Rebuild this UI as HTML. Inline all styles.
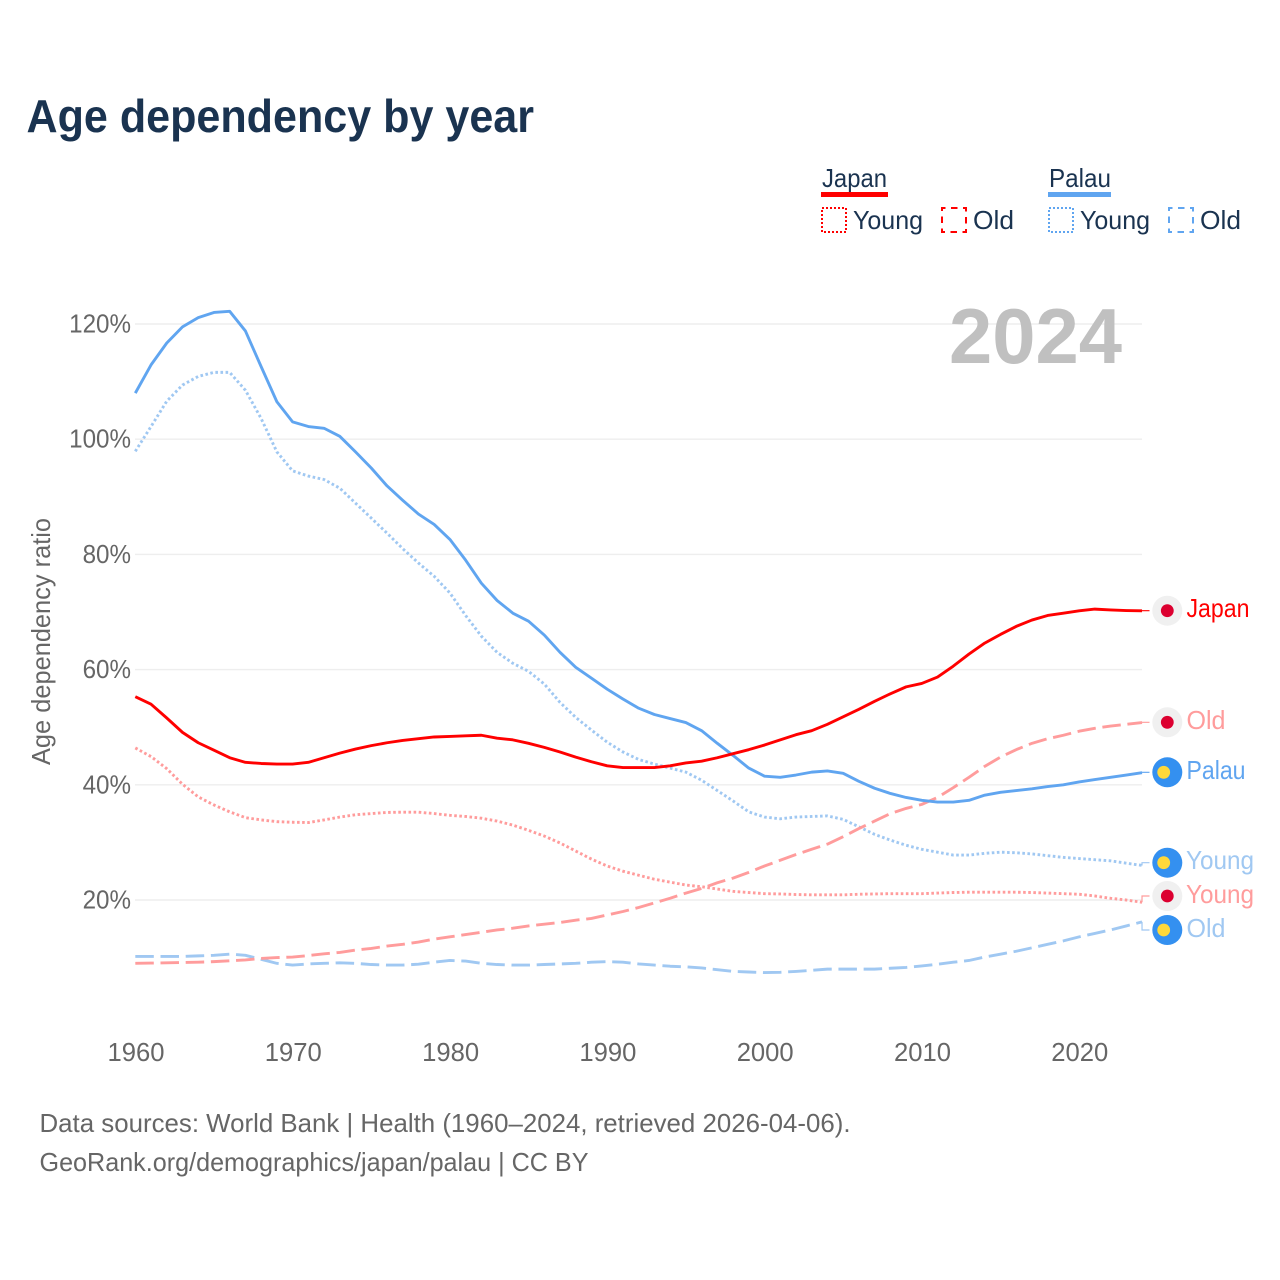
<!DOCTYPE html>
<html lang="en">
<head>
<meta charset="utf-8">
<title>Age dependency by year</title>
<style>
html,body{margin:0;padding:0;background:#fff;width:1280px;height:1280px;overflow:hidden}
svg{display:block;font-family:"Liberation Sans",sans-serif}
.leg{font-size:26px;fill:#1a3350}
.src{font-size:26px;fill:#666}
.end{font-size:26px}
.tick{font-size:26px;fill:#666}
</style>
</head>
<body>
<svg id="chart" width="1280" height="1280" viewBox="0 0 1280 1280" xmlns="http://www.w3.org/2000/svg">
  <rect width="1280" height="1280" fill="#fff"/>
  <text x="26.5" y="132" font-size="46" font-weight="700" fill="#1a3350" textLength="507.5" lengthAdjust="spacingAndGlyphs">Age dependency by year</text>

  <g>
    <text class="leg" x="822" y="187" textLength="65" lengthAdjust="spacingAndGlyphs">Japan</text>
    <rect x="821" y="192" width="67" height="5" fill="#ff0000"/>
    <rect x="822" y="208" width="24" height="24" fill="none" stroke="#ff0000" stroke-width="2" stroke-dasharray="2 2"/>
    <text class="leg" x="853" y="229" textLength="70" lengthAdjust="spacingAndGlyphs">Young</text>
    <rect x="942" y="208" width="24" height="24" fill="none" stroke="#ff0000" stroke-width="2" stroke-dasharray="6.5 5.5" stroke-dashoffset="3"/>
    <text class="leg" x="973" y="229" textLength="41" lengthAdjust="spacingAndGlyphs">Old</text>
    <text class="leg" x="1049" y="187" textLength="62" lengthAdjust="spacingAndGlyphs">Palau</text>
    <rect x="1048" y="192" width="63" height="5" fill="#60a5f0"/>
    <rect x="1049" y="208" width="24" height="24" fill="none" stroke="#60a5f0" stroke-width="2" stroke-dasharray="2 2"/>
    <text class="leg" x="1080" y="229" textLength="70" lengthAdjust="spacingAndGlyphs">Young</text>
    <rect x="1169" y="208" width="24" height="24" fill="none" stroke="#60a5f0" stroke-width="2" stroke-dasharray="6.5 5.5" stroke-dashoffset="3"/>
    <text class="leg" x="1200" y="229" textLength="41" lengthAdjust="spacingAndGlyphs">Old</text>
  </g>

  <g id="grid"></g>
  <g id="yticks"></g>
  <g id="xticks"></g>
  <text transform="translate(50,765) rotate(-90)" font-size="26" fill="#666" textLength="247" lengthAdjust="spacingAndGlyphs">Age dependency ratio</text>
  <text x="949" y="363" font-size="78" font-weight="700" fill="#c0c0c0" textLength="173" lengthAdjust="spacingAndGlyphs">2024</text>

  <g id="series"></g>

  <g>
    <g>
      <circle cx="1167.3" cy="610.7" r="15" fill="#f0f0f0"/>
      <circle cx="1167.3" cy="610.7" r="6.4" fill="#dc0030"/>
      <text class="end" x="1186.5" y="617" fill="#ff0000" textLength="63" lengthAdjust="spacingAndGlyphs">Japan</text>
    </g>
    <g>
      <circle cx="1167.3" cy="722.3" r="15" fill="#f0f0f0"/>
      <circle cx="1167.3" cy="722.3" r="6.4" fill="#dc0030"/>
      <text class="end" x="1186.5" y="729" fill="#ff9c9c" textLength="39" lengthAdjust="spacingAndGlyphs">Old</text>
    </g>
    <g>
      <circle cx="1167.3" cy="772.3" r="15" fill="#3490f0"/>
      <circle cx="1163.7" cy="772.3" r="6.4" fill="#ffd83a"/>
      <text class="end" x="1186.5" y="779" fill="#60a5f0" textLength="59" lengthAdjust="spacingAndGlyphs">Palau</text>
    </g>
    <g>
      <circle cx="1167.3" cy="862.7" r="15" fill="#3490f0"/>
      <circle cx="1163.7" cy="862.7" r="6.4" fill="#ffd83a"/>
      <text class="end" x="1186" y="869" fill="#a0c8f2" textLength="68" lengthAdjust="spacingAndGlyphs">Young</text>
    </g>
    <g>
      <circle cx="1167.3" cy="896" r="15" fill="#f0f0f0"/>
      <circle cx="1167.3" cy="896" r="6.4" fill="#dc0030"/>
      <text class="end" x="1186" y="903" fill="#ff9c9c" textLength="68" lengthAdjust="spacingAndGlyphs">Young</text>
    </g>
    <g>
      <circle cx="1167.3" cy="930" r="15" fill="#3490f0"/>
      <circle cx="1163.7" cy="930" r="6.4" fill="#ffd83a"/>
      <text class="end" x="1186.5" y="937" fill="#a0c8f2" textLength="39" lengthAdjust="spacingAndGlyphs">Old</text>
    </g>
  </g>

  <text class="src" x="39.5" y="1132" textLength="811" lengthAdjust="spacingAndGlyphs">Data sources: World Bank | Health (1960–2024, retrieved 2026-04-06).</text>
  <text class="src" x="39.5" y="1171" textLength="549" lengthAdjust="spacingAndGlyphs">GeoRank.org/demographics/japan/palau | CC BY</text>
</svg>
<script>
const firstYear = 1960;
const xTickLabels = [1960, 1970, 1980, 1990, 2000, 2010, 2020];
const yTickLabels = [20, 40, 60, 80, 100, 120];

const japanTotal = [55.3,54,51.6,49.1,47.3,46,44.7,43.9,43.7,43.6,43.6,43.9,44.7,45.5,46.2,46.8,47.3,47.7,48,48.3,48.4,48.5,48.6,48.1,47.8,47.2,46.5,45.7,44.8,44,43.3,43,43,43,43.3,43.8,44.1,44.7,45.4,46.1,46.9,47.8,48.7,49.4,50.5,51.8,53.1,54.5,55.8,57,57.6,58.7,60.6,62.7,64.6,66.1,67.5,68.6,69.4,69.8,70.2,70.5,70.35,70.25,70.2];
const japanYoung = [46.4,44.9,42.8,40.1,37.9,36.5,35.3,34.3,33.9,33.6,33.5,33.45,33.9,34.4,34.8,35,35.2,35.25,35.25,35,34.7,34.5,34.2,33.7,33,32.1,31.1,29.9,28.5,27.1,25.9,25,24.3,23.6,23.1,22.6,22.3,21.9,21.5,21.3,21.1,21.05,20.95,20.9,20.9,20.9,21,21.05,21.1,21.1,21.1,21.2,21.3,21.35,21.35,21.35,21.35,21.3,21.2,21.1,21,20.7,20.3,20,19.6];
const japanOld = [9,9.05,9.1,9.15,9.2,9.3,9.45,9.6,9.85,10,10.1,10.35,10.65,10.9,11.3,11.6,12,12.3,12.7,13.2,13.6,14,14.4,14.8,15.1,15.5,15.8,16.1,16.5,16.8,17.4,18,18.7,19.5,20.3,21.2,22,23,23.8,24.8,25.9,26.9,27.9,28.8,29.7,31,32.4,33.7,35,35.9,36.6,37.8,39.5,41.3,43.2,44.8,46.1,47.2,48,48.6,49.3,49.8,50.2,50.5,50.8];
const palauTotal = [108,112.9,116.7,119.5,121.1,122,122.2,118.8,112.6,106.5,103,102.2,101.9,100.5,97.8,95,91.9,89.4,87,85.2,82.6,79,75,72,69.8,68.4,66,63,60.4,58.5,56.6,54.9,53.3,52.2,51.5,50.8,49.4,47.2,45.1,42.9,41.5,41.3,41.7,42.2,42.4,42,40.6,39.4,38.5,37.8,37.3,37,37,37.3,38.2,38.7,39,39.3,39.7,40,40.5,40.9,41.3,41.7,42.1];
const palauYoung = [97.9,102.2,106.6,109.4,110.9,111.6,111.6,108.5,103.6,97.8,94.5,93.6,93,91.5,88.9,86.3,83.7,81,78.5,76.2,73.3,69.4,65.8,63,61.1,59.7,57.5,54.3,51.7,49.5,47.4,45.7,44.4,43.6,42.9,42.2,40.8,39,37.2,35.3,34.4,34.1,34.4,34.5,34.6,34,32.7,31.4,30.4,29.5,28.8,28.3,27.8,27.8,28.1,28.3,28.2,28,27.7,27.4,27.2,27,26.8,26.4,26];
const palauOld = [10.2,10.2,10.2,10.2,10.3,10.4,10.6,10.4,9.7,9,8.7,8.9,9,9.1,9,8.8,8.7,8.7,8.85,9.2,9.5,9.4,9,8.8,8.7,8.7,8.8,8.9,9,9.2,9.3,9.2,8.9,8.7,8.5,8.4,8.2,7.9,7.6,7.5,7.4,7.45,7.6,7.8,8,8,8,8,8.15,8.3,8.55,8.85,9.2,9.5,10.1,10.6,11.1,11.7,12.3,12.9,13.6,14.2,14.8,15.5,16.2];

const NS = 'http://www.w3.org/2000/svg';
function xScale(year) { return 135.3 + (year - 1960) * 15.73; }
function yScale(value) { return 1015.2 - value * 5.76; }
function make(tag, parent, attrs) {
  const el = document.createElementNS(NS, tag);
  for (const k in attrs) el.setAttribute(k, attrs[k]);
  parent.appendChild(el);
  return el;
}
const gridGroup = document.getElementById('grid');
const yTickGroup = document.getElementById('yticks');
const xTickGroup = document.getElementById('xticks');
const seriesGroup = document.getElementById('series');

yTickLabels.forEach(function (v) {
  const line = make('line', gridGroup, { x1: 135, x2: 1142, y1: yScale(v), y2: yScale(v), stroke: '#eeeeee', 'stroke-width': 1.4 });
  
  
  const t = make('text', yTickGroup, { x: 131, y: yScale(v) + 8.5, 'text-anchor': 'end', class: 'tick' });
  
  
  t.textContent = v + '%';
  t.setAttribute('textLength', t.getComputedTextLength() * 0.93);
  t.setAttribute('lengthAdjust', 'spacingAndGlyphs');
});
xTickLabels.forEach(function (y) {
  const t = make('text', xTickGroup, { x: xScale(y) + 0.7, y: 1061, 'text-anchor': 'middle', class: 'tick' });
  
  
  t.textContent = y;
  t.setAttribute('textLength', 57);
  t.setAttribute('lengthAdjust', 'spacingAndGlyphs');
});

function drawSeries(values, name, color, dash, labelY) {
  const pts = values.map(function (v, i) { return xScale(firstYear + i).toFixed(2) + ',' + yScale(v).toFixed(2); });
  const attrs = { points: pts.join(' '), fill: 'none', stroke: color, 'stroke-width': 2.9, 'stroke-linejoin': 'round' };
  if (dash) attrs['stroke-dasharray'] = dash;
  const line = make('polyline', seriesGroup, attrs);
  
  
  const endX = xScale(firstYear + values.length - 1);
  const endY = yScale(values[values.length - 1]);
  const conn = make('path', seriesGroup, { d: 'M' + endX + ' ' + endY + 'V' + labelY + 'H1149.5', fill: 'none', stroke: color, 'stroke-width': 1.2 });
  
  
}
const DOTTED = '2.6 2.5';
const DASHED = '18.5 6.7';
drawSeries(palauOld, 'line-palau-old', '#a0c8f2', DASHED, 930);
drawSeries(palauYoung, 'line-palau-young', '#a0c8f2', DOTTED, 862.7);
drawSeries(japanOld, 'line-japan-old', '#ff9c9c', DASHED, 722.3);
drawSeries(japanYoung, 'line-japan-young', '#ff9c9c', DOTTED, 896);
drawSeries(palauTotal, 'line-palau-total', '#60a5f0', null, 772.3);
drawSeries(japanTotal, 'line-japan-total', '#ff0000', null, 610.7);
</script>
</body>
</html>
